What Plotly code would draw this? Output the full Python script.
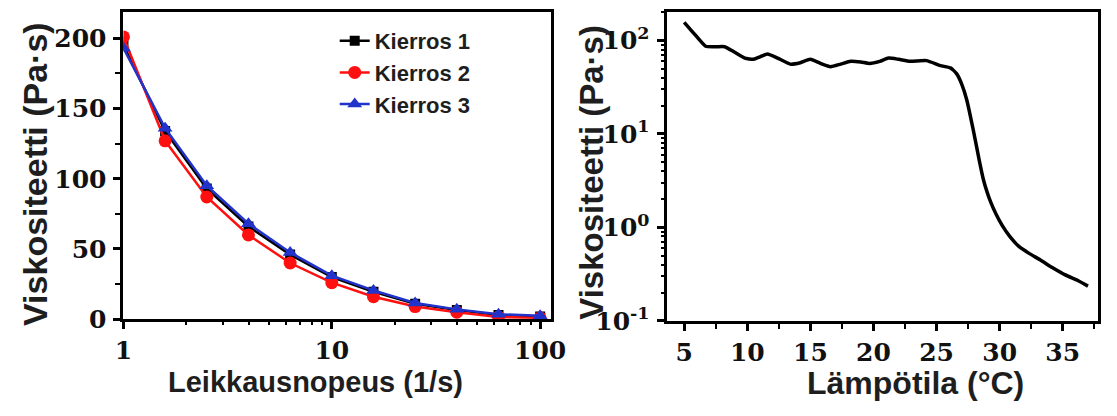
import plotly.graph_objects as go

# ---- data: left panel (shear rate sweep) ----
shear_rate = [1, 1.585, 2.512, 3.981, 6.310, 10, 15.85, 25.12, 39.81, 63.10, 100]
kierros1 = [195, 134, 93, 66, 46, 30, 19.5, 11, 6.5, 3, 2]
kierros2 = [201, 127, 87, 60, 40, 26, 16, 9, 5, 1.5, 1]
kierros3 = [193, 136, 95, 68, 47.5, 31, 20.5, 11.5, 7, 3.5, 2.5]
series_names = ["Kierros 1", "Kierros 2", "Kierros 3"]

# ---- data: right panel (temperature sweep) ----
temperature = [5.0, 5.8, 6.7, 7.5, 8.2, 9.0, 9.8, 10.5, 11.0, 11.6, 12.4, 13.4,
               14.2, 15.0, 15.8, 16.6, 17.4, 18.2, 19.0, 19.7, 20.5, 21.2, 22.0,
               22.9, 24.2, 25.3, 26.1, 26.6, 27.0, 27.4, 27.9, 28.4, 28.7, 29.0,
               29.3, 29.7, 30.2, 30.8, 31.5, 32.3, 33.2, 34.2, 35.2, 36.2, 37.0]
viscosity_T = [157, 118, 87, 86, 86, 75, 65, 63, 67, 72, 65, 56,
               58, 63, 57, 52.5, 56, 60, 59, 57, 60, 65, 63,
               60, 61, 54, 51, 44, 34, 23, 11.2, 5.1, 3.3, 2.4,
               1.85, 1.4, 1.05, 0.8, 0.63, 0.53, 0.45, 0.37, 0.31, 0.27, 0.235]

left_ytick_vals = [0, 50, 100, 150, 200]
left_xtick_vals = [1, 10, 100]
left_xminor_vals = [2, 3, 4, 5, 6, 7, 8, 9, 20, 30, 40, 50, 60, 70, 80, 90]
right_ytick_vals = [0.1, 1, 10, 100]
right_ytick_text = ["10<sup>-1</sup>", "10<sup>0</sup>", "10<sup>1</sup>", "10<sup>2</sup>"]
right_yminor_vals = [0.2, 0.3, 0.4, 0.5, 0.6, 0.7, 0.8, 0.9,
                     2, 3, 4, 5, 6, 7, 8, 9,
                     20, 30, 40, 50, 60, 70, 80, 90, 200]
right_xtick_vals = [5, 10, 15, 20, 25, 30, 35]

TICKFONT = dict(family="DejaVu Serif", size=25, color="#111111", weight="bold")


def title_font(size):
    return dict(family="Liberation Sans", size=size, color="#1e1e1e", weight="bold")


fig = go.Figure()

fig.add_trace(go.Scatter(x=shear_rate, y=kierros1, name=series_names[0], mode="lines+markers",
                         line=dict(color="black", width=2.5),
                         marker=dict(symbol="square", size=10, color="black"),
                         xaxis="x", yaxis="y"))
fig.add_trace(go.Scatter(x=shear_rate, y=kierros2, name=series_names[1], mode="lines+markers",
                         line=dict(color="#ff1010", width=2.5),
                         marker=dict(symbol="circle", size=13, color="#ff1010"),
                         xaxis="x", yaxis="y"))
fig.add_trace(go.Scatter(x=shear_rate, y=kierros3, name=series_names[2], mode="lines+markers",
                         line=dict(color="#2233cc", width=2.5),
                         marker=dict(symbol="triangle-up", size=13, color="#2233cc"),
                         xaxis="x", yaxis="y"))

fig.add_trace(go.Scatter(x=temperature, y=viscosity_T, mode="lines", showlegend=False,
                         line=dict(color="black", width=3.5, shape="spline", smoothing=0.5),
                         xaxis="x2", yaxis="y2"))

# empty helper traces so the minor-tick overlay axes are drawn
fig.add_trace(go.Scatter(x=[], y=[], xaxis="x3", yaxis="y", showlegend=False, hoverinfo="skip"))
fig.add_trace(go.Scatter(x=[], y=[], xaxis="x2", yaxis="y4", showlegend=False, hoverinfo="skip"))

axis_common = dict(showline=True, linecolor="black", linewidth=3, mirror=True,
                   ticks="outside", ticklen=7, tickwidth=2.5, tickcolor="black",
                   showgrid=False, zeroline=False, tickfont=TICKFONT)
minor_common = dict(ticks="outside", ticklen=5, tickwidth=2, tickcolor="black",
                    showgrid=False, showticklabels=False, showline=False,
                    zeroline=False, tickmode="array")

XL = [0.1047, 0.4955]
XR = [0.6016, 0.9964]
YL = [0.204, 0.971]
YR = [0.2, 0.971]

fig.update_layout(
    width=1117, height=416,
    margin=dict(l=0, r=0, t=0, b=0),
    paper_bgcolor="white", plot_bgcolor="white",
    xaxis=dict(domain=XL, type="log", range=[0, 2.05],
               tickmode="array", tickvals=left_xtick_vals, anchor="y", **axis_common),
    xaxis3=dict(domain=XL, type="log", range=[0, 2.05], overlaying="x", anchor="y",
                side="bottom", tickvals=left_xminor_vals, **minor_common),
    yaxis=dict(domain=YL, range=[0, 219], tick0=0, dtick=50, anchor="x",
               ticklabelstandoff=2,
               minor=dict(dtick=25, tick0=0, ticks="outside", ticklen=5, tickwidth=2,
                          tickcolor="black", showgrid=False),
               **axis_common),
    xaxis2=dict(domain=XR, range=[3.6, 37.8], tick0=5, dtick=5, anchor="y2",
                minor=dict(dtick=2.5, tick0=2.5, ticks="outside", ticklen=5, tickwidth=2,
                           tickcolor="black", showgrid=False),
                **axis_common),
    yaxis2=dict(domain=YR, type="log", range=[-1, 2.31], tickmode="array",
                tickvals=right_ytick_vals, ticktext=right_ytick_text, anchor="x2",
                ticklabelstandoff=2, **axis_common),
    yaxis4=dict(domain=YR, type="log", range=[-1, 2.31], overlaying="y2", anchor="x2",
                side="left", tickvals=right_yminor_vals, **minor_common),
    legend=dict(x=0.298, y=0.95, xanchor="left", yanchor="top",
                bgcolor="rgba(0,0,0,0)", borderwidth=0,
                font=dict(family="Liberation Sans", size=22, color="#1e1e1e", weight="bold"),
                tracegroupgap=0, itemwidth=30),
    showlegend=True,
)

annots = [
    dict(text="Leikkausnopeus (1/s)", x=313 / 1117, y=1 - 396 / 416, font=title_font(29)),
    dict(text="Lämpötila (°C)", x=926 / 1117, y=1 - 397 / 416, font=title_font(32)),
    dict(text="Viskositeetti (Pa·s)", x=26 / 1117, y=1 - 180 / 416, textangle=-90,
         font=title_font(34)),
    dict(text="Viskositeetti (Pa·s)", x=595 / 1117, y=1 - 179 / 416, textangle=-90,
         font=title_font(33)),
]
for a in annots:
    fig.add_annotation(xref="paper", yref="paper", showarrow=False,
                       xanchor="center", yanchor="middle", **a)

fig.write_html("out.html")
